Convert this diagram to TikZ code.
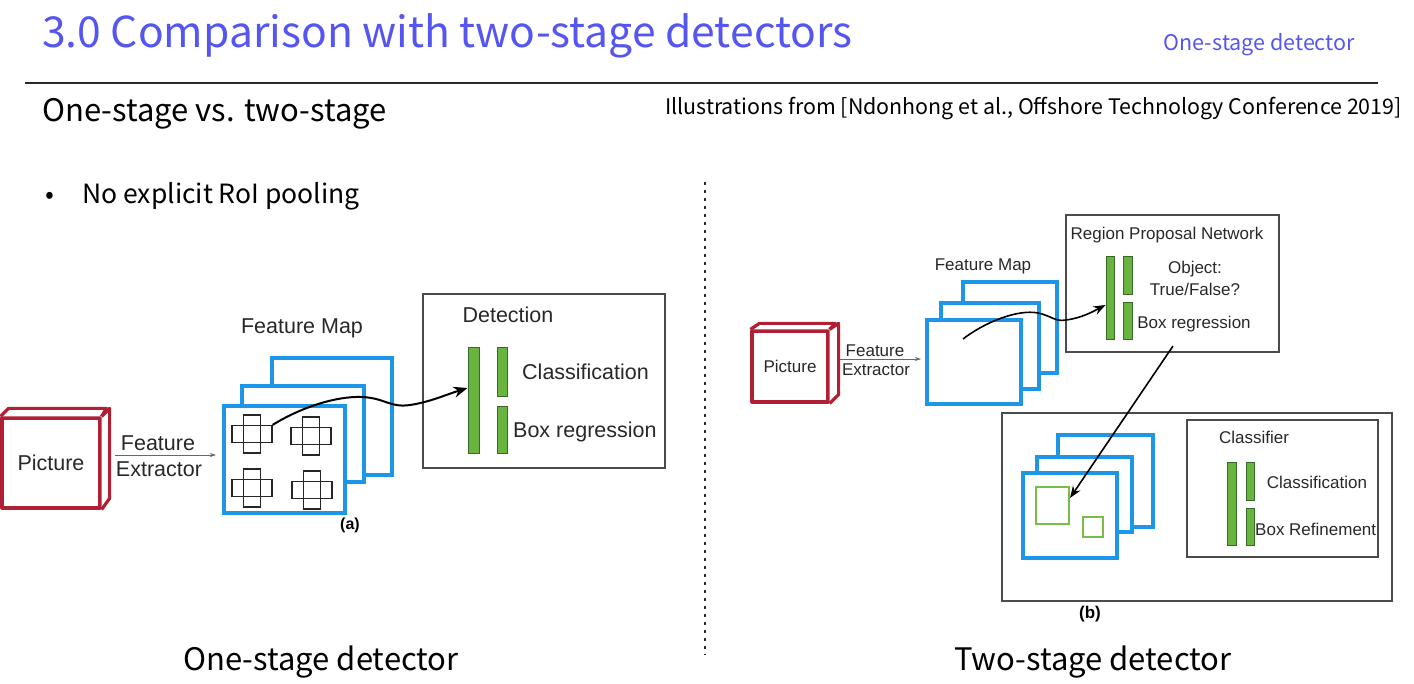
\documentclass[tikz,border=0pt]{standalone}
\usepackage{fontspec}
\setmainfont{Liberation Sans}
\newfontfamily\slidefont{Noto Sans CJK KR}
\usetikzlibrary{arrows.meta}

\definecolor{slideblue}{RGB}{85,85,240}
\definecolor{mapblue}{RGB}{30,150,232}
\definecolor{picred}{RGB}{176,32,52}
\definecolor{barfill}{RGB}{104,180,62}
\definecolor{barline}{RGB}{55,105,40}
\definecolor{roigreen}{RGB}{120,190,70}
\definecolor{boxgray}{RGB}{75,75,75}
\definecolor{figtext}{RGB}{40,40,40}
\definecolor{rulegray}{RGB}{40,40,45}

\tikzset{
  slidetext/.style={inner sep=0pt, font=\slidefont},
  figlabel/.style={inner sep=0pt, text=figtext},
  mapbox/.style={draw=mapblue, line width=3.5pt, fill=white, inner sep=0pt},
  picface/.style={draw=picred, line width=3.2pt, fill=white, inner sep=0pt, line join=round},
  panel/.style={draw=boxgray, line width=1.4pt, inner sep=0pt},
  bar/.style={draw=barline, fill=barfill, line width=1pt, inner sep=0pt},
  roibox/.style={draw=roigreen, line width=2pt, inner sep=0pt},
  thinarrow/.style={draw=figtext!70, line width=0.8pt, -{Stealth[length=6pt,width=4pt]}},
  flowarrow/.style={draw=black, line width=2pt, -{Stealth[length=14pt,width=11pt]}},
  cellbox/.style={draw=black!85, line width=1.2pt},
}

\begin{document}
\begin{tikzpicture}[x=1pt,y=-1pt]
\useasboundingbox (0,0) rectangle (1414,684);

% ---------- slide header ----------
\node[slidetext, anchor=base west, text=slideblue, font=\slidefont\fontsize{42.6}{48}\selectfont]
  (title) at (42,48) {3.0 Comparison with two-stage detectors};
\node[slidetext, anchor=base east, text=slideblue, font=\slidefont\fontsize{21.5}{25}\selectfont]
  (section) at (1355,51) {One-stage detector};
\coordinate (ruleL) at (25,83);
\coordinate (ruleR) at (1378,83);
\draw[rulegray, line width=1.2pt] (ruleL) -- (ruleR);
\node[slidetext, anchor=base west, font=\slidefont\fontsize{31}{36}\selectfont]
  (subtitle) at (42,122) {One-stage vs. two-stage};
\node[slidetext, anchor=base east, font=\slidefont\fontsize{21.4}{25}\selectfont]
  (credit) at (1402,115) {Illustrations from [Ndonhong et al., Offshore Technology Conference 2019]};
\node[slidetext, anchor=base, font=\slidefont\fontsize{26}{30}\selectfont]
  (bullet) at (50,204) {•};
\node[slidetext, anchor=base west, font=\slidefont\fontsize{26.5}{30}\selectfont]
  (point) at (82,204) {No explicit RoI pooling};

% dotted separator
\coordinate (sepT) at (705,182);
\coordinate (sepB) at (705,655);
\draw[black!85, line width=2.6pt, dash pattern=on 2.6pt off 5.4pt] (sepT) -- (sepB);

\node[slidetext, anchor=base, font=\slidefont\fontsize{31}{36}\selectfont]
  (capA) at (321,670) {One-stage detector};
\node[slidetext, anchor=base, font=\slidefont\fontsize{31}{36}\selectfont]
  (capB) at (1093,670) {Two-stage detector};

% ================= (a) one-stage =================
% input picture (box drawn in perspective)
\node[picface, minimum width=98, minimum height=90] (picA) at (51,463) {};
\draw[picface] (picA.north west) -- ++(8,-8) -- ++(98,0) -- (picA.north east);
\draw[picface] (picA.north east) -- ++(8,-8) -- ++(0,90) -- (picA.south east);
\node[figlabel, font=\fontsize{21.5}{24}\selectfont] (picAlbl) at (picA.center) {Picture};

% feature maps
\node[mapbox, minimum width=120, minimum height=117] (fmA3) at (332,416.5) {};
\node[mapbox, minimum width=122, minimum height=96] (fmA2) at (303,434) {};
\node[mapbox, minimum width=121, minimum height=107] (fmA1) at (284.5,459.5) {};
\node[figlabel, font=\fontsize{21.5}{24}\selectfont] (fmAlbl) at (302,328) {Feature Map};

% feature extractor arrow
\coordinate (extAs) at (115,455);
\coordinate (extAe) at (216,455);
\draw[thinarrow] (extAs) -- (extAe);
\node[figlabel, font=\fontsize{21.5}{24}\selectfont] (extAt) at (158,443) {Feature};
\node[figlabel, font=\fontsize{21.5}{24}\selectfont] (extAb) at (159,469) {Extractor};

% anchor cells on the feature map
\foreach \n/\cx/\cy in {c1/252/434, c2/311/436, c3/252/488, c4/312/490}{
  \node[cellbox, minimum width=17, minimum height=38] (\n v) at (\cx,\cy) {};
  \node[cellbox, minimum width=40, minimum height=17] (\n h) at (\cx,\cy) {};
}
\node[font=\bfseries\fontsize{16}{18}\selectfont, inner sep=0pt] (tagA) at (350,525) {(a)};

% detection head
\node[panel, minimum width=242, minimum height=174] (detA) at (544,381) {};
\node[figlabel, font=\fontsize{21.5}{24}\selectfont] (detAlbl) at (508,315) {Detection};
\node[bar, minimum width=11, minimum height=106] (barA1) at (473.5,401) {};
\node[bar, minimum width=10, minimum height=49] (barA2) at (502,372.5) {};
\node[bar, minimum width=10, minimum height=47] (barA3) at (502,430.5) {};
\node[figlabel, anchor=west, font=\fontsize{21.5}{24}\selectfont] (clsA) at (522,372) {Classification};
\node[figlabel, anchor=west, font=\fontsize{21.5}{24}\selectfont] (regA) at (513,432) {Box regression};

% path from an anchor cell to the detection head
\draw[flowarrow] (c1h.north east) .. controls (300,408) and (335,396) .. (362,397)
  .. controls (385,398) and (390,408) .. (410,405)
  .. controls (430,402) and (445,395) .. (barA1.west |- 0,388);

% ================= (b) two-stage =================
\node[picface, minimum width=76, minimum height=71] (picB) at (790,366.5) {};
\draw[picface] (picB.north west) -- ++(9,-6) -- ++(76,0) -- (picB.north east);
\draw[picface] (picB.north east) -- ++(9,-6) -- ++(0,71) -- (picB.south east);
\node[figlabel, font=\fontsize{17}{20}\selectfont] (picBlbl) at (picB.center) {Picture};

\node[mapbox, minimum width=94, minimum height=91] (fmB3) at (1010,327.5) {};
\node[mapbox, minimum width=98, minimum height=86] (fmB2) at (990,346) {};
\node[mapbox, minimum width=94, minimum height=84] (fmB1) at (974,362) {};
\node[figlabel, font=\fontsize{17}{20}\selectfont] (fmBlbl) at (983,266) {Feature Map};

\coordinate (extBs) at (840,359);
\coordinate (extBe) at (921,359);
\draw[thinarrow] (extBs) -- (extBe);
\node[figlabel, font=\fontsize{17}{20}\selectfont] (extBt) at (875,351) {Feature};
\node[figlabel, font=\fontsize{17}{20}\selectfont] (extBb) at (876,370) {Extractor};

% region proposal network
\node[panel, minimum width=213, minimum height=137] (rpn) at (1172.5,283.5) {};
\node[figlabel, font=\fontsize{17}{20}\selectfont] (rpnlbl) at (1167,235) {Region Proposal Network};
\node[bar, minimum width=8, minimum height=83] (barB1) at (1110,298.5) {};
\node[bar, minimum width=9, minimum height=38] (barB2) at (1127.5,276) {};
\node[bar, minimum width=9, minimum height=37] (barB3) at (1127.5,321.5) {};
\node[figlabel, font=\fontsize{17}{20}\selectfont] (objB1) at (1195,269) {Object:};
\node[figlabel, font=\fontsize{17}{20}\selectfont] (objB2) at (1195,289) {True/False?};
\node[figlabel, font=\fontsize{17}{20}\selectfont] (regB) at (1194,324) {Box regression};

\coordinate (fmBpt) at (963,339);
\draw[flowarrow, line width=1.6pt, -{Stealth[length=12pt,width=9pt]}] (fmBpt)
  .. controls (985,322) and (1018,309) .. (1038,313)
  .. controls (1052,316) and (1055,322) .. (1066,320)
  .. controls (1082,318) and (1094,311) .. (barB1.west |- 0,305);

% second stage
\node[panel, minimum width=390, minimum height=188] (stage2) at (1197,507) {};
\node[font=\bfseries\fontsize{17}{20}\selectfont, inner sep=0pt] (tagB) at (1090,614) {(b)};

\node[mapbox, minimum width=95, minimum height=92] (fmC3) at (1105.5,481) {};
\node[mapbox, minimum width=95, minimum height=75] (fmC2) at (1084.5,494.5) {};
\node[mapbox, minimum width=94, minimum height=85] (fmC1) at (1070,515.5) {};
\node[roibox, minimum width=33, minimum height=37] (roi1) at (1052.5,505.5) {};
\node[roibox, minimum width=20, minimum height=20] (roi2) at (1093,527) {};

\coordinate (rpnOut) at (1173,346);
\draw[flowarrow, line width=1.6pt, -{Stealth[length=12pt,width=9pt]}] (rpnOut) -- (roi1.east |- 0,498);

% classifier
\node[panel, minimum width=191, minimum height=137] (clsBox) at (1282.5,488.5) {};
\node[figlabel, font=\fontsize{17}{20}\selectfont] (clsBoxlbl) at (1254,437) {Classifier};
\node[bar, minimum width=9, minimum height=83] (barC1) at (1231.5,503.5) {};
\node[bar, minimum width=8, minimum height=38] (barC2) at (1250,481) {};
\node[bar, minimum width=8, minimum height=37] (barC3) at (1250,526.5) {};
\node[figlabel, font=\fontsize{17}{20}\selectfont] (clsC) at (1317,482) {Classification};
\node[figlabel, anchor=west, font=\fontsize{17}{20}\selectfont] (refC) at (1255,529) {Box Refinement};

\end{tikzpicture}
\end{document}
